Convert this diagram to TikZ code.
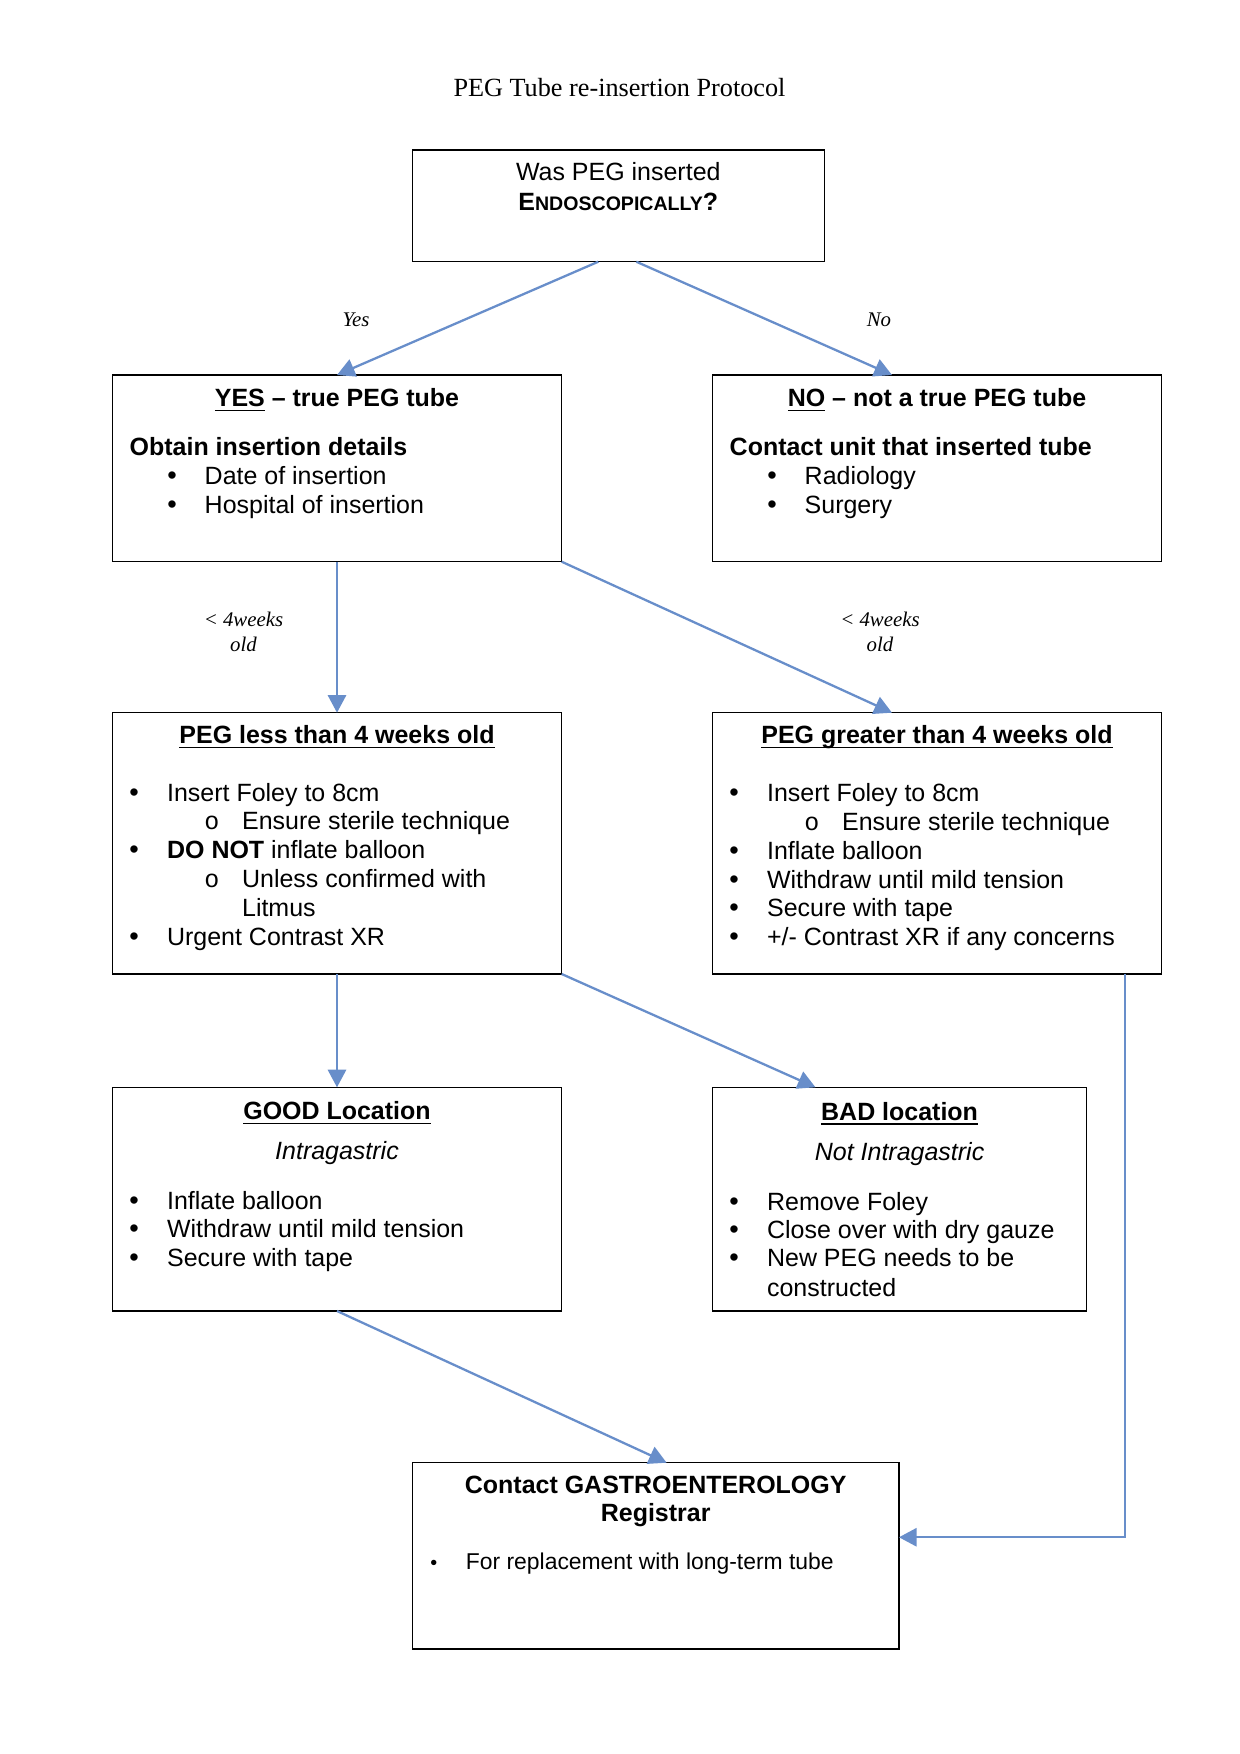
\documentclass[tikz,border=0pt]{standalone}
\usepackage{fontspec}
\setmainfont{Liberation Sans}
\newfontfamily\serifT{Liberation Serif}
\newfontfamily\monoT{Liberation Mono}
\usetikzlibrary{arrows.meta,calc}
\newlength\px \setlength\px{0.48045pt}
\newlength\ulw
\newcommand\wul[1]{\settowidth\ulw{#1}\rlap{\rule[-2.3pt]{\ulw}{0.7pt}}#1}
\newcommand\bul{\fontsize{13}{14}\selectfont\textbullet}
\newcommand\subo{{\monoT o}}
\definecolor{arrowblue}{RGB}{104,142,202}
\begin{document}
\begin{tikzpicture}[x=0.48045pt, y=-0.48045pt,
  every node/.style={font=\fontsize{12}{14}\selectfont},
  box/.style={draw, line width=0.6pt, inner sep=0pt, outer sep=0pt, anchor=north west},
  tl/.style={inner sep=0pt, anchor=base west},
  tc/.style={inner sep=0pt, anchor=base},
  lab/.style={inner sep=0pt, anchor=base, font=\serifT\itshape\fontsize{10}{12}\selectfont},
  arr/.style={draw=arrowblue, line width=1.1pt, -{Triangle[length=8.5pt,width=8.8pt]}}]
\useasboundingbox (0,0) rectangle (1239,1754);

% title
\node[tc, font=\serifT\fontsize{12.6}{14}\selectfont] (title) at (619.5,96) {PEG Tube re-insertion Protocol};

% boxes
\node[box, minimum width=412\px, minimum height=111.7\px] (top) at (412.3,150) {};
\node[box, minimum width=449.4\px, minimum height=186.7\px] (yes) at (112.3,375) {};
\node[box, minimum width=449.4\px, minimum height=186.7\px] (no) at (712.3,375) {};
\node[box, minimum width=449.4\px, minimum height=261.3\px] (less) at (112.3,712.7) {};
\node[box, minimum width=449.4\px, minimum height=261.3\px] (greater) at (712.3,712.7) {};
\node[box, minimum width=449.4\px, minimum height=223.7\px] (good) at (112.3,1087.3) {};
\node[box, minimum width=374.4\px, minimum height=223.7\px] (bad) at (712.3,1087.3) {};
\node[box, minimum width=486.7\px, minimum height=186.3\px] (gastro) at (412.3,1462.7) {};

% top box text
\node[tc] (top1) at (618.3,180.7) {Was PEG inserted};
\node[tc] (top2) at (618.3,210.7) {\bfseries E{\fontsize{9.4}{11}\selectfont NDOSCOPICALLY}?};

% YES box
\node[tc] (yes1) at (337,406.7) {\bfseries\wul{YES} -- true PEG tube};
\node[tl] (yes2) at (129.3,455) {\bfseries Obtain insertion details};
\node[tl] (yes3b) at (167,484) {\bul};
\node[tl] (yes3) at (204.3,484) {Date of insertion};
\node[tl] (yes4b) at (167,513) {\bul};
\node[tl] (yes4) at (204.3,513) {Hospital of insertion};

% NO box
\node[tc] (no1) at (937,406.7) {\bfseries\wul{NO} -- not a true PEG tube};
\node[tl] (no2) at (729.3,455) {\bfseries Contact unit that inserted tube};
\node[tl] (no3b) at (767,484) {\bul};
\node[tl] (no3) at (804.3,484) {Radiology};
\node[tl] (no4b) at (767,513) {\bul};
\node[tl] (no4) at (804.3,513) {Surgery};

% PEG less box
\node[tc] (less1) at (337,743.3) {\bfseries\wul{PEG less than 4 weeks old}};
\node[tl] (less2b) at (129,801.7) {\bul};
\node[tl] (less2) at (166.7,801.7) {Insert Foley to 8cm};
\node[tl] (less3b) at (204,829.3) {\subo};
\node[tl] (less3) at (241.7,829.3) {Ensure sterile technique};
\node[tl] (less4b) at (129,858.3) {\bul};
\node[tl] (less4) at (166.7,858.3) {\textbf{DO NOT} inflate balloon};
\node[tl] (less5b) at (204,887.3) {\subo};
\node[tl] (less5) at (241.7,887.3) {Unless confirmed with};
\node[tl] (less6) at (241.7,916) {Litmus};
\node[tl] (less7b) at (129,945) {\bul};
\node[tl] (less7) at (166.7,945) {Urgent Contrast XR};

% PEG greater box
\node[tc] (gr1) at (937,743.3) {\bfseries\wul{PEG greater than 4 weeks old}};
\node[tl] (gr2b) at (729,801.7) {\bul};
\node[tl] (gr2) at (766.7,801.7) {Insert Foley to 8cm};
\node[tl] (gr3b) at (804,830) {\subo};
\node[tl] (gr3) at (841.7,830) {Ensure sterile technique};
\node[tl] (gr4b) at (729,859.3) {\bul};
\node[tl] (gr4) at (766.7,859.3) {Inflate balloon};
\node[tl] (gr5b) at (729,888.3) {\bul};
\node[tl] (gr5) at (766.7,888.3) {Withdraw until mild tension};
\node[tl] (gr6b) at (729,916.7) {\bul};
\node[tl] (gr6) at (766.7,916.7) {Secure with tape};
\node[tl] (gr7b) at (729,945) {\bul};
\node[tl] (gr7) at (766.7,945) {+/- Contrast XR if any concerns};

% GOOD box
\node[tc] (good1) at (337,1119.3) {\bfseries\wul{GOOD Location}};
\node[tc] (good2) at (337,1159) {\itshape Intragastric};
\node[tl] (good3b) at (129,1209.3) {\bul};
\node[tl] (good3) at (166.7,1209.3) {Inflate balloon};
\node[tl] (good4b) at (129,1237.7) {\bul};
\node[tl] (good4) at (166.7,1237.7) {Withdraw until mild tension};
\node[tl] (good5b) at (129,1266) {\bul};
\node[tl] (good5) at (166.7,1266) {Secure with tape};

% BAD box
\node[tc] (bad1) at (899.6,1120) {\bfseries\wul{BAD location}};
\node[tc] (bad2) at (899.6,1160) {\itshape Not Intragastric};
\node[tl] (bad3b) at (729,1210) {\bul};
\node[tl] (bad3) at (766.7,1210) {Remove Foley};
\node[tl] (bad4b) at (729,1238.3) {\bul};
\node[tl] (bad4) at (766.7,1238.3) {Close over with dry gauze};
\node[tl] (bad5b) at (729,1266.7) {\bul};
\node[tl] (bad5) at (766.7,1266.7) {New PEG needs to be};
\node[tl] (bad6) at (766.7,1296) {constructed};

% Gastro box
\node[tc] (ga1) at (655.7,1493.3) {\bfseries Contact GASTROENTEROLOGY};
\node[tc] (ga2) at (655.7,1521.7) {\bfseries Registrar};
\node[tl, font=\fontsize{9.5}{11}\selectfont] (ga3b) at (430,1569.3) {\textbullet};
\node[tl, font=\fontsize{11}{13}\selectfont] (ga3) at (465.5,1569.3) {For replacement with long-term tube};

% connector labels
\node[lab] (lyes) at (356,326.7) {Yes};
\node[lab] (lno) at (879,326.7) {No};
\node[lab] (l4a) at (243.5,626) {< 4weeks};
\node[lab] (l4b) at (243.5,651.7) {old};
\node[lab] (r4a) at (880,626) {< 4weeks};
\node[lab] (r4b) at (880,651.7) {old};

% connectors
\coordinate (topL) at ($(top.south)+(-20,0)$);
\coordinate (topR) at ($(top.south)+(18,0)$);
\coordinate (noIn) at ($(no.north)+(-45,0)$);
\coordinate (grIn) at ($(greater.north)+(-45,0)$);
\coordinate (badIn) at ($(bad.north)+(-84,0)$);
\coordinate (gaIn) at ($(gastro.north)+(11,0)$);
\coordinate (grOut) at ($(greater.south east)+(-37,0)$);
\coordinate (gaRight) at ($(gastro.east)+(0,-18.6)$);

\draw[arr] (topL) -- (yes.north);
\draw[arr] (topR) -- (noIn);
\draw[arr] (yes.south) -- (less.north);
\draw[arr] (yes.south east) -- (grIn);
\draw[arr] (less.south) -- (good.north);
\draw[arr] (less.south east) -- (badIn);
\draw[arr] (good.south) -- (gaIn);
\draw[arr] (grOut) |- (gaRight);
\end{tikzpicture}
\end{document}
